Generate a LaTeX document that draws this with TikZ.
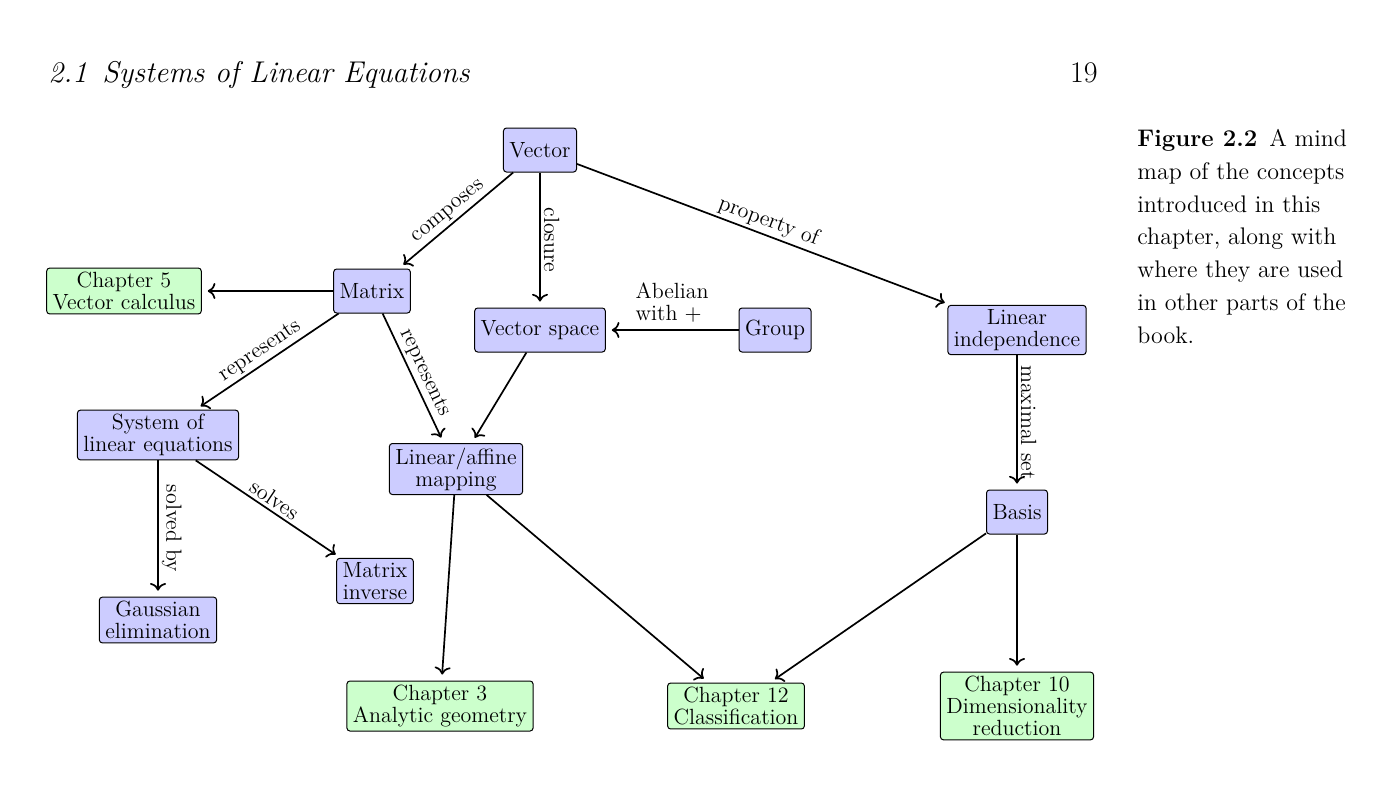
\documentclass[tikz,border=0pt]{standalone}
\usepackage{amsmath}
\usepackage{amssymb}
\usetikzlibrary{positioning, calc, arrows, arrows.meta}

\begin{document}
\begin{tikzpicture}[x=.5pt, y=-.5pt,
    concept/.style={draw, line width=.5pt, rounded corners=1.5pt, fill=blue!20, align=center,
      inner xsep=3pt, inner ysep=2pt, minimum height=22pt, font=\fontsize{11}{11}\selectfont},
    chapter/.style={concept, fill=green!20},
    link/.style={-{To[scale=1.1]}, line width=.85pt, shorten >=3pt},
    lbl/.style={sloped, above, inner sep=1.5pt, font=\fontsize{11}{11}\selectfont}]
  \useasboundingbox (0,0) rectangle (1375,805);

  % page head and caption
  \node[anchor=base west, inner sep=0, font=\fontsize{15}{18}\selectfont\itshape] at (48,82) (H) {2.1\enspace Systems of Linear Equations};
  \node[anchor=base east, inner sep=0, font=\fontsize{15}{18}\selectfont] at (1098,82) (N) {19};
  \node[anchor=north west, inner sep=0, align=left, font=\fontsize{12}{16.4}\selectfont] at (1137,129) (F)
    {\textbf{Figure 2.2}\enspace A mind\\ map of the concepts\\ introduced in this\\ chapter, along with\\ where they are used\\ in other parts of the\\ book.};

  % concepts
  \node[concept] at (540,150) (V) {Vector};
  \node[concept] at (372,291) (M) {Matrix};
  \node[chapter] at (124,291) (C5) {Chapter 5\\Vector calculus};
  \node[concept] at (540,330) (VS) {Vector space};
  \node[concept] at (775,330) (G) {Group};
  \node[concept] at (1017,330) (LI) {Linear\\independence};
  \node[concept] at (158,435) (S) {System of\\linear equations};
  \node[concept] at (456,469) (L) {Linear/affine\\mapping};
  \node[concept] at (1017,512) (B) {Basis};
  \node[concept] at (375,581) (MI) {Matrix\\inverse};
  \node[concept] at (158,620) (GE) {Gaussian\\elimination};
  \node[chapter] at (440,706) (C3) {Chapter 3\\Analytic geometry};
  \node[chapter] at (736,706) (C12) {Chapter 12\\Classification};
  \node[chapter] at (1017,706) (C10) {Chapter 10\\Dimensionality\\reduction};

  % links
  \draw[link] (V) -- node[lbl]{composes} (M);
  \draw[link] (V) -- node[lbl]{closure} (VS);
  \draw[link] (V) -- node[lbl]{property of} (LI);
  \draw[link] (M) -- (C5);
  \draw[link] (G) -- node[above, align=left, font=\fontsize{11}{11}\selectfont]{Abelian\\with $+$} (VS);
  \draw[link] (M) -- node[lbl]{represents} (S);
  \draw[link] (M) -- node[lbl]{represents} (L);
  \draw[link] (VS) -- (L);
  \draw[link] (LI) -- node[lbl]{maximal set} (B);
  \draw[link] (S) -- node[lbl]{solved by} (GE);
  \draw[link] (S) -- node[lbl]{solves} (MI);
  \draw[link] (L) -- (C3);
  \draw[link] (L) -- (C12);
  \draw[link] (B) -- (C12);
  \draw[link] (B) -- (C10);
\end{tikzpicture}
\end{document}
